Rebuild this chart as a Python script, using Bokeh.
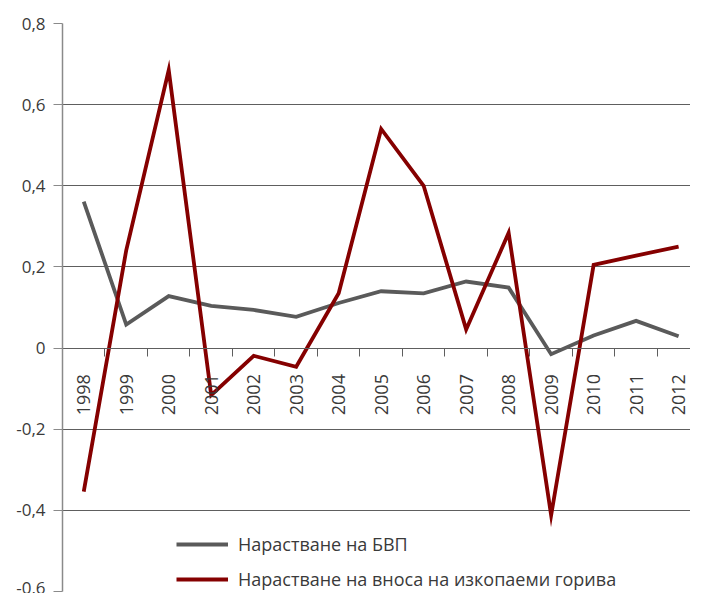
import math
from bokeh.plotting import figure
from bokeh.models import Range1d, FixedTicker, LinearAxis, CustomJSTickFormatter, ColumnDataSource
from bokeh.embed import file_html
from bokeh.resources import INLINE

years = ["1998", "1999", "2000", "2001", "2002", "2003", "2004", "2005",
         "2006", "2007", "2008", "2009", "2010", "2011", "2012"]
gdp_growth = [0.361, 0.058, 0.128, 0.104, 0.094, 0.077, 0.111, 0.140,
              0.135, 0.164, 0.149, -0.015, 0.031, 0.067, 0.029]
fuel_import_growth = [-0.354, 0.241, 0.685, -0.116, -0.019, -0.046, 0.135, 0.540,
                      0.400, 0.046, 0.284, -0.412, 0.205, 0.228, 0.250]
y_ticks = [-0.6, -0.4, -0.2, 0.0, 0.2, 0.4, 0.6, 0.8]
series_names = ["Нарастване на БВП", "Нарастване на вноса на изкопаеми горива"]

FONT = "Open Sans"
TXT = "#3a3a3a"
GRID = "#5e5e5e"

xpos = [i + 0.5 for i in range(len(years))]
src = ColumnDataSource(dict(x=xpos, gdp=gdp_growth, fuel=fuel_import_growth))

p = figure(width=690, height=593, output_backend="svg", toolbar_location=None,
           x_range=Range1d(0, 14.78), y_range=Range1d(-0.6, 0.8),
           min_border_left=62, min_border_right=0, min_border_top=23, min_border_bottom=2,
           x_axis_location=None)
p.outline_line_color = None
p.background_fill_color = "white"
p.border_fill_color = "white"

# y axis
p.yaxis.ticker = FixedTicker(ticks=y_ticks)
p.yaxis.formatter = CustomJSTickFormatter(code="""
  if (Math.abs(tick) < 1e-9) return "0";
  return tick.toFixed(1).replace(".", ",");
""")
p.yaxis.axis_line_color = "#8a8a8a"
p.yaxis.axis_line_width = 1.5
p.yaxis.major_tick_line_color = "#8a8a8a"
p.yaxis.major_tick_out = 9
p.yaxis.major_tick_in = 0
p.yaxis.minor_tick_line_color = None
p.yaxis.major_label_standoff = 8
p.yaxis.major_label_text_font = FONT
p.yaxis.major_label_text_font_size = "17px"
p.yaxis.major_label_text_color = TXT

p.ygrid.ticker = FixedTicker(ticks=y_ticks)
p.ygrid.grid_line_color = GRID
p.ygrid.grid_line_width = 1
p.xgrid.grid_line_color = None

# category boundary ticks on the zero line
tick_axis = LinearAxis(fixed_location=0,
                       ticker=FixedTicker(ticks=list(range(1, len(years) + 1))),
                       major_label_text_alpha=0, major_label_text_font_size="1px",
                       axis_line_color=GRID, major_tick_line_color=GRID,
                       major_tick_out=8, major_tick_in=0, minor_tick_line_color=None)
p.add_layout(tick_axis, "below")

# year labels
label_axis = LinearAxis(fixed_location=0,
                        ticker=FixedTicker(ticks=xpos),
                        formatter=CustomJSTickFormatter(
                            args=dict(labels=years),
                            code="return labels[Math.round(tick - 0.5)];"),
                        major_label_orientation=math.pi / 2,
                        major_label_standoff=20,
                        major_label_text_font=FONT,
                        major_label_text_font_size="18px",
                        major_label_text_color=TXT,
                        axis_line_color=None, major_tick_line_color=None,
                        minor_tick_line_color=None)
p.add_layout(label_axis, "below")

p.line("x", "gdp", source=src, line_color="#5a5a5a", line_width=3.8,
       line_join="miter", legend_label=series_names[0])
p.line("x", "fuel", source=src, line_color="#850000", line_width=3.8,
       line_join="miter", legend_label=series_names[1])

lg = p.legend[0]
lg.location = (114, 0)
lg.border_line_color = None
lg.background_fill_alpha = 0
lg.padding = 0
lg.margin = 0
lg.spacing = 11
lg.glyph_width = 52
lg.glyph_height = 20
lg.label_standoff = 10
lg.label_text_font = FONT
lg.label_text_font_size = "18px"
lg.label_text_color = TXT

open("out.html", "w").write(file_html(p, INLINE))
